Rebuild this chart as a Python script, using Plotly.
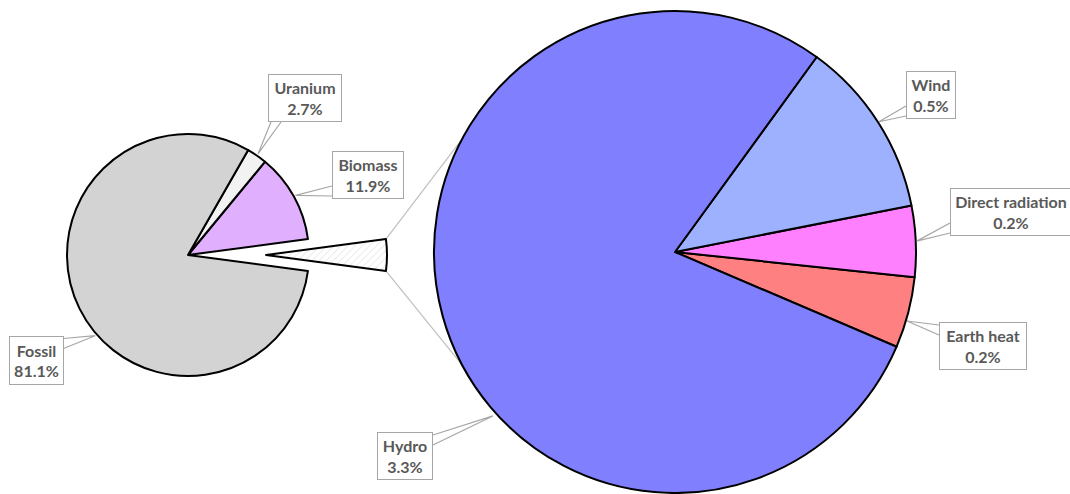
import math
import plotly.graph_objects as go

# Primary energy supply shares (%)
main_labels = ["Other renewables", "Biomass", "Uranium", "Fossil"]
main_values = [4.2, 11.9, 2.7, 81.1]
main_colors = ["rgba(0,0,0,0)", "#E0B0FF", "#F2F2F2", "#D3D3D3"]

# Breakdown of the "other renewables" slice (% of total)
sub_labels = ["Earth heat", "Direct radiation", "Wind", "Hydro"]
sub_values = [0.2, 0.2, 0.5, 3.3]
sub_colors = ["#FF8080", "#FF80FF", "#9EB1FF", "#8080FF"]

W, H = 1070, 494
# pie geometry in pixels
C1, R1 = (188, 255), 121          # main pie
PULL_PX = 78                      # offset of the exploded slice
C2, R2 = (675, 252), 241          # secondary pie
ROT2 = 96                         # rotation of secondary pie
SERIES_ANGLE = 28                 # series lines meet pie 2 at 180 +/- this

TXT = "#595959"
GRAY = "#A6A6A6"


def domain(c, r):
    return dict(x=[(c[0] - r) / W, (c[0] + r) / W],
                y=[1 - (c[1] + r) / H, 1 - (c[1] - r) / H])


def slice_angles(values, rot):
    """Math angles (deg, CCW from 3 o'clock) of slices of a CCW plotly pie."""
    tot = sum(values)
    spans = [360 * v / tot for v in values]
    start = 90 - rot - spans[0]
    out = []
    for s in spans:
        out.append((start, start + s))
        start += s
    return out


def on_circle(c, r, ang):
    a = math.radians(ang)
    return c[0] + r * math.cos(a), c[1] - r * math.sin(a)


def px_to_paper(p):
    return p[0] / W, 1 - p[1] / H


tot1 = sum(main_values)
ROT1 = 90 - 180 * main_values[0] / tot1
ang1 = slice_angles(main_values, ROT1)
ang2 = slice_angles(sub_values, ROT2)

fig = go.Figure()

# main pie (the exploded slice is left empty here)
fig.add_trace(go.Pie(
    values=main_values, labels=main_labels, sort=False,
    direction="counterclockwise", rotation=ROT1,
    marker=dict(colors=main_colors,
                line=dict(color=["rgba(0,0,0,0)", "black", "black", "black"], width=2)),
    textinfo="none", hoverinfo="skip", showlegend=False,
    domain=domain(C1, R1),
))

# exploded slice, drawn as its own pie shifted to the right
C1x = (C1[0] + PULL_PX, C1[1])
fig.add_trace(go.Pie(
    values=[main_values[0], tot1 - main_values[0]],
    labels=["Other renewables", "rest"], sort=False,
    direction="counterclockwise", rotation=ROT1,
    marker=dict(colors=["#FCFCFC", "rgba(0,0,0,0)"],
                line=dict(color=["black", "rgba(0,0,0,0)"], width=2),
                pattern=dict(shape=["/", ""], fgcolor="#DADADA", size=5, solidity=0.15)),
    textinfo="none", hoverinfo="skip", showlegend=False,
    domain=domain(C1x, R1),
))

# secondary pie
fig.add_trace(go.Pie(
    values=sub_values, labels=sub_labels, sort=False,
    direction="counterclockwise", rotation=ROT2,
    marker=dict(colors=sub_colors, line=dict(color="black", width=2)),
    textinfo="none", hoverinfo="skip", showlegend=False,
    domain=domain(C2, R2),
))

shapes = []
# series lines from the exploded slice to the secondary pie
a0, a1 = ang1[0]
for a_slice, a_target in ((a1, 180 - SERIES_ANGLE), (a0, 180 + SERIES_ANGLE)):
    p = on_circle(C1x, R1, a_slice)
    q = on_circle(C2, R2, a_target)
    (x0, y0), (x1, y1) = px_to_paper(p), px_to_paper(q)
    shapes.append(dict(type="line", xref="paper", yref="paper",
                       x0=x0, y0=y0, x1=x1, y1=y1,
                       line=dict(color="#BFBFBF", width=1.2), layer="below"))

# callout labels: (label, value, box centre px, box w, h, anchor px)
callouts = []
mid = lambda a: (a[0] + a[1]) / 2
callouts.append(("Biomass", main_values[1], (368, 175), 72, 48, on_circle(C1, R1 + 2, mid(ang1[1]))))
callouts.append(("Uranium", main_values[2], (305, 98), 74, 48, on_circle(C1, R1 + 2, mid(ang1[2]))))
callouts.append(("Fossil", main_values[3], (36, 360), 55, 49, on_circle(C1, R1 + 2, 221)))
callouts.append(("Earth heat", sub_values[0], (983, 346), 88, 48, on_circle(C2, R2 + 1, mid(ang2[0]) - 2)))
callouts.append(("Direct radiation", sub_values[1], (1011, 212), 122, 48, on_circle(C2, R2 + 1, mid(ang2[1]))))
callouts.append(("Wind", sub_values[2], (931, 95), 50, 48, on_circle(C2, R2 + 1, mid(ang2[2]))))
callouts.append(("Hydro", sub_values[3], (405, 456), 56, 48, on_circle(C2, R2 + 4, 222)))

annotations = []
BW, BP = 1, 2
for name, val, (bx, by), bw, bh, (ax, ay) in callouts:
    annotations.append(dict(
        x=bx / W, y=1 - by / H, xref="paper", yref="paper",
        xanchor="center", yanchor="middle", showarrow=False,
        text=f"<b>{name}</b><br><b>{val:.1f}%</b>",
        font=dict(family="Lato, sans-serif", size=16, color=TXT),
        bgcolor="white", bordercolor=GRAY, borderwidth=BW, borderpad=BP,
        width=bw - 2 * (BW + BP), height=bh - 2 * (BW + BP), align="center",
    ))
    # wedge-shaped leader from the box side facing the anchor
    dx, dy = ax - bx, ay - by
    hw, hh = bw / 2, bh / 2
    m, half = 8, 5
    if abs(dx) / hw >= abs(dy) / hh:
        ex = bx - hw if dx < 0 else bx + hw
        ey = min(max(ay, by - hh + m), by + hh - m)
        b1, b2 = (ex, ey - half), (ex, ey + half)
    else:
        ey = by - hh if dy < 0 else by + hh
        ex = min(max(ax, bx - hw + m), bx + hw - m)
        b1, b2 = (ex - half, ey), (ex + half, ey)
    pts = [px_to_paper(b1), px_to_paper((ax, ay)), px_to_paper(b2)]
    path = "M {} {} L {} {} L {} {}".format(*[v for p in pts for v in p])
    shapes.append(dict(type="path", xref="paper", yref="paper", path=path,
                       line=dict(color=GRAY, width=1.2)))

fig.update_layout(
    width=W, height=H,
    margin=dict(l=0, r=0, t=0, b=0),
    paper_bgcolor="white", plot_bgcolor="white",
    shapes=shapes, annotations=annotations,
)

fig.write_html("out.html")
